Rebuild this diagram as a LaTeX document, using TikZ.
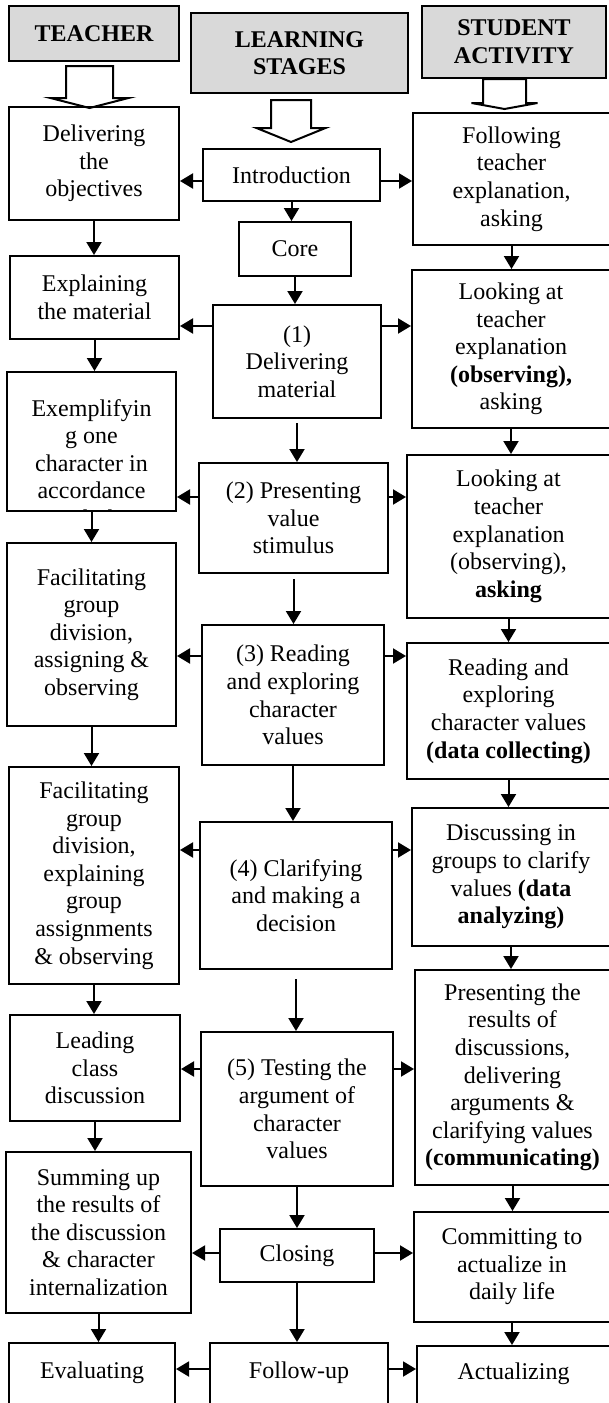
\documentclass[tikz,border=0pt]{standalone}
\usepackage{fontspec}
\setmainfont{Liberation Serif}
\usetikzlibrary{arrows.meta}
\definecolor{headgray}{HTML}{D9D9D9}

\tikzset{
    pics/openarrow/.style args={#1/#2/#3/#4}{code={
        \draw[line width=1pt, fill=white] (-#1,0) -- (#1,0) -- (#1,#3-#4) -- (#2,#3-#4) -- (0,#3) -- (-#2,#3-#4) -- (-#1,#3-#4) -- cycle;
    }}
}

\begin{document}
\begin{tikzpicture}[
        x=0.5pt, y=-0.5pt,
        box/.style={draw, line width=1pt, align=center, inner sep=0pt, font=\fontsize{12}{13.8}\selectfont},
        head/.style={box, fill=headgray, font=\fontsize{12}{13.8}\selectfont\bfseries},
        arr/.style={line width=1pt, -{Triangle[length=6.5pt,width=7.5pt]}}
    ]
    \path[use as bounding box, clip] (0,0) rectangle (609,1403);

    % column heads
    \node[head, minimum width=85pt,    minimum height=27.5pt] (hT) at (94,33.5)  {TEACHER};
    \node[head, minimum width=108.5pt, minimum height=40pt]   (hL) at (299.5,53) {LEARNING\\STAGES};
    \node[head, minimum width=92pt,    minimum height=36pt]   (hS) at (514,42)   {STUDENT\\ACTIVITY};
    \pic at (89.5,66)  {openarrow=23.5/39/42/10};
    \pic at (291,100)  {openarrow=20/34.5/42/14};
    \pic at (504.5,79) {openarrow=21.5/33/30/6};

    % teacher
    \node[box, minimum width=85pt,   minimum height=56.5pt]  (d1) at (94,163.5)  {Delivering\\the\\objectives};
    \node[box, minimum width=84.5pt, minimum height=41.5pt]  (d2) at (94.5,297.5) {Explaining\\the material};
    \node[box, minimum width=84.5pt, minimum height=69.5pt,
        path picture={\node[align=center, inner sep=0pt, anchor=north, font=\fontsize{12}{13.8}\selectfont] (d3t)
            at ([yshift=-10.2pt]path picture bounding box.north) {Exemplifyin\\g one\\character in\\accordance\\with the};}]
                                                             (d3) at (91.5,441.5) {};
    \node[box, minimum width=84.5pt, minimum height=91.5pt]  (d4) at (91.5,634.5) {Facilitating\\group\\division,\\assigning \&\\observing};
    \node[box, minimum width=85pt,   minimum height=108.5pt] (d5) at (94,875.5)  {Facilitating\\group\\division,\\explaining\\group\\assignments\\\& observing};
    \node[box, minimum width=85pt,   minimum height=53pt]    (d6) at (95,1068)   {Leading\\class\\discussion};
    \node[box, minimum width=92.5pt, minimum height=80.5pt]  (d7) at (98.5,1232.5) {Summing up\\the results of\\the discussion\\\& character\\internalization};
    \node[box, minimum width=83pt, text height=17.5pt, text depth=20pt, anchor=north] (d8) at (92,1342) {Evaluating};

    % learning stages
    \node[box, minimum width=88.5pt, minimum height=26pt]   (m0) at (291.5,175) {Introduction};
    \node[box, minimum width=56pt,   minimum height=27pt]   (mc) at (295,249)   {Core};
    \node[box, minimum width=84pt,   minimum height=56.5pt] (m1) at (297,361.5) {(1)\\Delivering\\material};
    \node[box, minimum width=94.5pt, minimum height=55pt]   (m2) at (293.5,518) {(2) Presenting\\value\\stimulus};
    \node[box, minimum width=91pt,   minimum height=70pt]   (m3) at (293,695)   {(3) Reading\\and exploring\\character\\values};
    \node[box, minimum width=96pt,   minimum height=73.5pt] (m4) at (296,895.5) {(4) Clarifying\\and making a\\decision};
    \node[box, minimum width=96pt,   minimum height=77pt]   (m5) at (297,1109)  {(5) Testing the\\argument of\\character\\values};
    \node[box, minimum width=77pt,   minimum height=26.5pt] (m6) at (297,1255.5) {Closing};
    \node[box, minimum width=89pt, text height=17.5pt, text depth=20pt, anchor=north] (m7) at (299,1342) {Follow-up};

    % student activity
    \node[box, minimum width=98.5pt,  minimum height=66pt]    (s1) at (511.5,179) {Following\\teacher\\explanation,\\asking};
    \node[box, minimum width=99pt,    minimum height=79pt]    (s2) at (511,349)   {Looking at\\teacher\\explanation\\\textbf{(observing),}\\asking};
    \node[box, minimum width=101.5pt, minimum height=81.5pt]  (s3) at (508.5,536.5) {Looking at\\teacher\\explanation\\(observing),\\\textbf{asking}};
    \node[box, minimum width=101.5pt, minimum height=68pt]    (s4) at (508.5,711) {Reading and\\exploring\\character values\\\textbf{(data collecting)}};
    \node[box, minimum width=99pt,    minimum height=69pt]    (s5) at (511,877)   {Discussing in\\groups to clarify\\values \textbf{(data}\\\textbf{analyzing)}};
    \node[box, minimum width=97.5pt,  minimum height=107.5pt] (s6) at (512.5,1077.5) {Presenting the\\results of\\discussions,\\delivering\\arguments \&\\clarifying values\\\textbf{(communicating)}};
    \node[box, minimum width=98pt,    minimum height=55pt]    (s7) at (512,1267)  {Committing to\\actualize in\\daily life};
    \node[box, minimum width=96.5pt, text height=16.5pt, text depth=20pt, anchor=north] (s8) at (513.5,1345) {Actualizing};

    % downward flow
    \draw[arr] (d1.south) -- (d1.south |- d2.north);
    \draw[arr] (d2.south) -- (d2.south |- d3.north);
    \draw[arr] (d3.south) -- (d3.south |- d4.north);
    \draw[arr] (d4.south) -- (d4.south |- d5.north);
    \draw[arr] (d5.south) -- (d5.south |- d6.north);
    \draw[arr] (d6.south) -- (d6.south |- d7.north);
    \draw[arr] (d7.south) -- (d7.south |- d8.north);
    \draw[arr] (m0.south) -- (m0.south |- mc.north);
    \draw[arr] (mc.south) -- (mc.south |- m1.north);
    \draw[arr, shorten <=2pt]   (m1.south) -- (m1.south |- m2.north);
    \draw[arr, shorten <=2.5pt] (m2.south) -- (m2.south |- m3.north);
    \draw[arr] (m3.south) -- (m3.south |- m4.north);
    \draw[arr, shorten <=4.5pt] (m4.south) -- (m4.south |- m5.north);
    \draw[arr] (m5.south) -- (m5.south |- m6.north);
    \draw[arr] (m6.south) -- (m6.south |- m7.north);
    \draw[arr] (s1.south) -- (s1.south |- s2.north);
    \draw[arr] (s2.south) -- (s2.south |- s3.north);
    \draw[arr] (s3.south) -- (s3.south |- s4.north);
    \draw[arr] (s4.south) -- (s4.south |- s5.north);
    \draw[arr] (s5.south) -- (s5.south |- s6.north);
    \draw[arr] (s6.south) -- (s6.south |- s7.north);
    \draw[arr] (s7.south) -- (s7.south |- s8.north);

    % sideways from each stage
    \draw[arr] ([yshift=-3pt]m0.west) -- ([yshift=-3pt]m0.west -| d1.east);
    \draw[arr] ([yshift=-3pt]m0.east) -- ([yshift=-3pt]m0.east -| s1.west);
    \draw[arr] ([yshift=17.75pt]m1.west) -- ([yshift=17.75pt]m1.west -| d2.east);
    \draw[arr] ([yshift=17.75pt]m1.east) -- ([yshift=17.75pt]m1.east -| s2.west);
    \draw[arr] ([yshift=10.5pt]m2.west) -- ([yshift=10.5pt]m2.west -| d3.east);
    \draw[arr] ([yshift=10.5pt]m2.east) -- ([yshift=10.5pt]m2.east -| s3.west);
    \draw[arr] ([yshift=19.5pt]m3.west) -- ([yshift=19.5pt]m3.west -| d4.east);
    \draw[arr] ([yshift=19.5pt]m3.east) -- ([yshift=19.5pt]m3.east -| s4.west);
    \draw[arr] ([yshift=22.75pt]m4.west) -- ([yshift=22.75pt]m4.west -| d5.east);
    \draw[arr] ([yshift=22.75pt]m4.east) -- ([yshift=22.75pt]m4.east -| s5.west);
    \draw[arr] ([yshift=20pt]m5.west) -- ([yshift=20pt]m5.west -| d6.east);
    \draw[arr] ([yshift=20pt]m5.east) -- ([yshift=20pt]m5.east -| s6.west);
    \draw[arr] ([yshift=1.25pt]m6.west) -- ([yshift=1.25pt]m6.west -| d7.east);
    \draw[arr] ([yshift=1.25pt]m6.east) -- ([yshift=1.25pt]m6.east -| s7.west);
    \draw[arr] ([yshift=5.75pt]m7.west) -- ([yshift=5.75pt]m7.west -| d8.east);
    \draw[arr] ([yshift=5.75pt]m7.east) -- ([yshift=5.75pt]m7.east -| s8.west);
\end{tikzpicture}
\end{document}
